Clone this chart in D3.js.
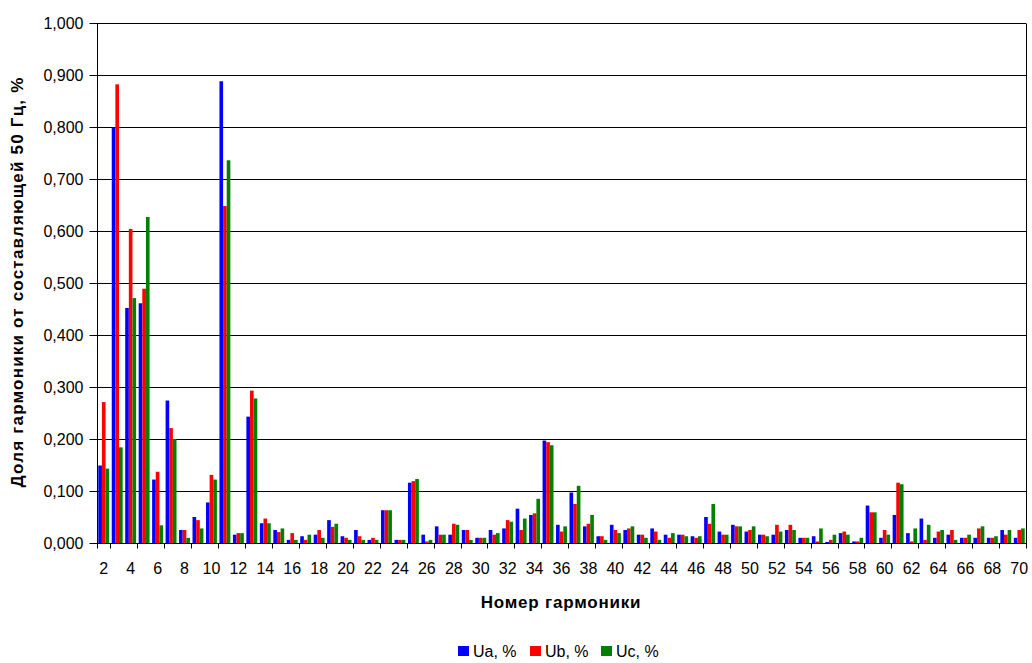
<!DOCTYPE html>
<html>
<head>
<meta charset="utf-8">
<script src="https://cdn.jsdelivr.net/npm/d3@7"></script>
<style>
  body { margin: 0; background: #fff; }
  svg text { font-family: "Liberation Sans", Arial, sans-serif; }
</style>
</head>
<body>
<div id="chart"></div>
<script>
var width = 1032
var height = 663

// harmonic numbers
var harmonics = [2,3,4,5,6,7,8,9,10,11,12,13,14,15,16,17,18,19,20,21,22,23,24,25,26,27,28,29,30,31,32,33,34,35,36,
  37,38,39,40,41,42,43,44,45,46,47,48,49,50,51,52,53,54,55,56,57,58,59,60,61,62,63,64,65,66,67,68,69,70];

var ua = [0.149,0.799,0.452,0.461,0.122,0.274,0.025,0.050,0.078,0.888,0.016,0.243,0.038,
  0.025,0.006,0.013,0.016,0.044,0.013,0.025,0.006,0.063,0.006,0.116,0.016,0.032,0.016,0.025,0.010,0.025,0.028,
  0.066,0.054,0.197,0.035,0.097,0.032,0.013,0.035,0.025,0.016,0.028,0.016,0.016,0.013,0.050,0.022,0.035,0.022,
  0.016,0.016,0.025,0.010,0.013,0.002,0.019,0.003,0.072,0.010,0.054,0.019,0.047,0.010,0.016,0.010,0.010,0.010,0.025,0.010];
var ub = [0.271,0.882,0.604,0.489,0.137,0.221,0.025,0.044,0.131,0.648,0.019,0.293,0.047,
  0.021,0.019,0.006,0.025,0.031,0.010,0.013,0.010,0.063,0.006,0.119,0.003,0.016,0.037,0.025,0.010,0.016,0.044,
  0.025,0.057,0.194,0.022,0.075,0.037,0.013,0.025,0.028,0.016,0.022,0.010,0.016,0.010,0.037,0.016,0.032,0.025,
  0.016,0.035,0.035,0.010,0.003,0.006,0.022,0.003,0.059,0.025,0.116,0.003,0.006,0.022,0.025,0.010,0.028,0.010,0.016,0.025];
var uc = [0.143,0.184,0.471,0.627,0.034,0.200,0.010,0.028,0.122,0.736,0.019,0.278,0.038,
  0.028,0.006,0.016,0.010,0.037,0.006,0.006,0.006,0.063,0.006,0.123,0.006,0.016,0.035,0.006,0.010,0.019,0.041,
  0.047,0.085,0.188,0.032,0.110,0.054,0.006,0.019,0.032,0.010,0.006,0.019,0.013,0.013,0.075,0.016,0.032,0.032,
  0.013,0.022,0.025,0.010,0.028,0.016,0.016,0.010,0.059,0.016,0.113,0.028,0.035,0.025,0.006,0.016,0.032,0.013,0.025,0.028];

var seriesNames = ["Ua, %", "Ub, %", "Uc, %"];
var seriesValues = [ua, ub, uc];
var colors = ["#0000ff", "#ff0000", "#008000"];
var yTicks = [0, 0.1, 0.2, 0.3, 0.4, 0.5, 0.6, 0.7, 0.8, 0.9, 1.0];
var xLabels = [2,4,6,8,10,12,14,16,18,20,22,24,26,28,30,32,34,36,38,40,42,44,46,48,50,52,54,56,58,60,62,64,66,68,70];

var plot = {left: 97, right: 1026, top: 23, bottom: 543};

var svg = d3.select("#chart").append("svg")
    .attr("width", width)
    .attr("height", height);

var x = d3.scaleBand()
    .domain(harmonics)
    .range([plot.left, plot.right])
    .padding(0);

var xs = d3.scaleBand()
    .domain([0, 1, 2])
    .range([0, x.bandwidth()])
    .paddingOuter(0.35)
    .paddingInner(0);

var y = d3.scaleLinear()
    .domain([0, 1])
    .range([plot.bottom, plot.top]);

var fmt = function(d) { return d3.format(".3f")(d).replace(".", ","); };

// gridlines
svg.append("g")
  .selectAll("line")
  .data(yTicks.slice(1))
  .enter().append("line")
    .attr("x1", plot.left)
    .attr("x2", plot.right)
    .attr("y1", function(d) { return Math.round(y(d)) + 0.5; })
    .attr("y2", function(d) { return Math.round(y(d)) + 0.5; })
    .attr("stroke", "#000")
    .attr("stroke-width", 1);

// right border
svg.append("line")
    .attr("x1", plot.right + 0.5).attr("x2", plot.right + 0.5)
    .attr("y1", Math.round(y(1)) + 0.5).attr("y2", plot.bottom)
    .attr("stroke", "#000");

// bars
seriesValues.forEach(function(vals, si) {
  svg.append("g")
    .selectAll("rect")
    .data(vals)
    .enter().append("rect")
      .attr("x", function(d, i) { return x(harmonics[i]) + xs(si); })
      .attr("width", xs.bandwidth())
      .attr("y", function(d) { return y(d); })
      .attr("height", function(d) { return y(0) - y(d); })
      .attr("fill", colors[si]);
});

// y axis
var yAxis = d3.axisLeft(y)
    .tickValues(yTicks)
    .tickFormat(fmt)
    .tickSize(8)
    .tickPadding(6);

var gy = svg.append("g")
    .attr("transform", "translate(" + (plot.left + 0.5) + ",0)")
    .call(yAxis);
gy.select(".domain").attr("d", "M0," + y(1) + "V" + plot.bottom);
gy.selectAll("text").style("font-size", "16px").attr("fill", "#000");

// x axis: ticks at every second category border, labels on even harmonics
var gx = svg.append("g")
    .attr("transform", "translate(0," + (plot.bottom + 0.5) + ")");
gx.append("line")
    .attr("x1", plot.left).attr("x2", plot.right + 1)
    .attr("stroke", "#000");
gx.selectAll(".tick")
  .data(xLabels)
  .enter().append("line")
    .attr("x1", function(d) { return Math.round(x(d) + x.bandwidth()) + 0.5; })
    .attr("x2", function(d) { return Math.round(x(d) + x.bandwidth()) + 0.5; })
    .attr("y1", 0).attr("y2", 5)
    .attr("stroke", "#000");
gx.append("line")
    .attr("x1", plot.left + 0.5).attr("x2", plot.left + 0.5)
    .attr("y1", 0).attr("y2", 5)
    .attr("stroke", "#000");
gx.selectAll(".lbl")
  .data(xLabels)
  .enter().append("text")
    .attr("x", function(d) { return x(d) + x.bandwidth() / 2; })
    .attr("y", 30.5)
    .attr("text-anchor", "middle")
    .style("font-size", "16px")
    .text(function(d) { return d; });

// axis titles
svg.append("text")
    .attr("x", 561)
    .attr("y", 608)
    .attr("text-anchor", "middle")
    .style("font-size", "17px")
    .style("font-weight", "bold")
    .style("letter-spacing", "0.8px")
    .text("Номер гармоники");

svg.append("text")
    .attr("transform", "translate(23," + 282 + ") rotate(-90)")
    .attr("text-anchor", "middle")
    .style("font-size", "17px")
    .style("font-weight", "bold")
    .style("letter-spacing", "1.2px")
    .text("Доля гармоники от составляющей 50 Гц, %");

// legend
var legendX = [458, 530, 601];
var legend = svg.append("g");
seriesNames.forEach(function(name, i) {
  legend.append("rect")
      .attr("x", legendX[i]).attr("y", 646)
      .attr("width", 11).attr("height", 10)
      .attr("fill", colors[i]);
  legend.append("text")
      .attr("x", legendX[i] + 15).attr("y", 657)
      .style("font-size", "16px")
      .text(name);
});
</script>
</body>
</html>
